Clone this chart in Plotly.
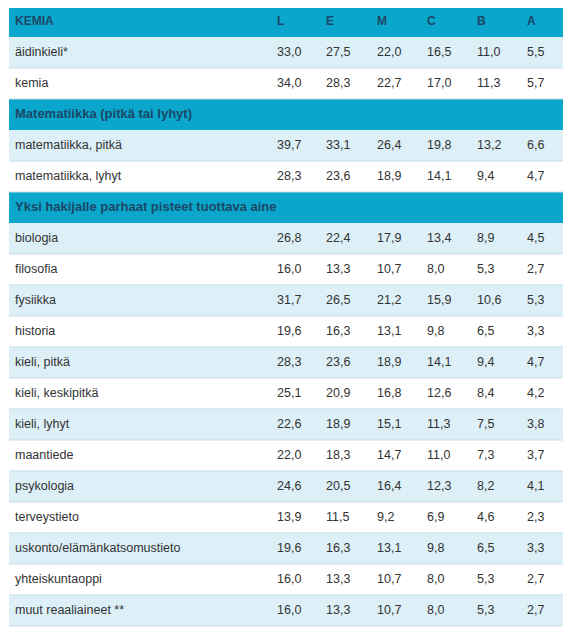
import plotly.graph_objects as go

# ---- data ----
title = "KEMIA"
grade_labels = ["L", "E", "M", "C", "B", "A"]
row_labels = [
    "äidinkieli*", "kemia", "Matematiikka (pitkä tai lyhyt)",
    "matematiikka, pitkä", "matematiikka, lyhyt",
    "Yksi hakijalle parhaat pisteet tuottava aine",
    "biologia", "filosofia", "fysiikka", "historia", "kieli, pitkä",
    "kieli, keskipitkä", "kieli, lyhyt", "maantiede", "psykologia",
    "terveystieto", "uskonto/elämänkatsomustieto", "yhteiskuntaoppi",
    "muut reaaliaineet **",
]
is_section = [False, False, True, False, False, True] + [False] * 13
L = [33.0, 34.0, None, 39.7, 28.3, None, 26.8, 16.0, 31.7, 19.6, 28.3, 25.1, 22.6, 22.0, 24.6, 13.9, 19.6, 16.0, 16.0]
E = [27.5, 28.3, None, 33.1, 23.6, None, 22.4, 13.3, 26.5, 16.3, 23.6, 20.9, 18.9, 18.3, 20.5, 11.5, 16.3, 13.3, 13.3]
M = [22.0, 22.7, None, 26.4, 18.9, None, 17.9, 10.7, 21.2, 13.1, 18.9, 16.8, 15.1, 14.7, 16.4, 9.2, 13.1, 10.7, 10.7]
C = [16.5, 17.0, None, 19.8, 14.1, None, 13.4, 8.0, 15.9, 9.8, 14.1, 12.6, 11.3, 11.0, 12.3, 6.9, 9.8, 8.0, 8.0]
B = [11.0, 11.3, None, 13.2, 9.4, None, 8.9, 5.3, 10.6, 6.5, 9.4, 8.4, 7.5, 7.3, 8.2, 4.6, 6.5, 5.3, 5.3]
A = [5.5, 5.7, None, 6.6, 4.7, None, 4.5, 2.7, 5.3, 3.3, 4.7, 4.2, 3.8, 3.7, 4.1, 2.3, 3.3, 2.7, 2.7]
columns = [L, E, M, C, B, A]

# ---- style ----
W, H = 574, 644
PAGE_OFF = 8          # default body margin of the html page
TOP, ROWH = 6, 31     # page pixel of table top, row height
X0, X1 = 9, 563       # page pixels of table left/right
LABEL_X = 15
COL_X = [277, 326, 377, 427, 477, 527]
CYAN = "#0AA6CB"
LIGHT = "#DDEFF7"
WHITE = "#FFFFFF"
SEP = "#C6DEE9"
HEAD_TXT = "#1C4767"
BODY_TXT = "#333333"
FONT = "Liberation Sans, Arial, sans-serif"

n_rows = len(row_labels) + 1  # including header
rows_y = list(range(n_rows))

# row backgrounds
bg = [CYAN]
stripe = 0
for sec in is_section:
    if sec:
        bg.append(CYAN)
        stripe = 0
    else:
        bg.append(LIGHT if stripe % 2 == 0 else WHITE)
        stripe += 1

fig = go.Figure()
fig.add_trace(go.Bar(
    y=rows_y, x=[X1 - X0] * n_rows, base=[X0] * n_rows, orientation="h",
    width=1, marker=dict(color=bg, line=dict(width=0)),
    hoverinfo="skip", showlegend=False,
))

# label column: header, section rows, body rows
all_labels = [title] + row_labels
kinds = ["head"] + ["sec" if s else "body" for s in is_section]
for kind, size, color in [("head", 12, HEAD_TXT), ("sec", 13, HEAD_TXT), ("body", 12.5, BODY_TXT)]:
    ys = [i for i, k in enumerate(kinds) if k == kind]
    txt = [all_labels[i] for i in ys]
    if kind != "body":
        txt = [f"<b>{t}</b>" for t in txt]
    fig.add_trace(go.Scatter(
        x=[LABEL_X] * len(ys), y=ys, mode="text", text=txt,
        textposition="middle right",
        textfont=dict(family=FONT, size=size, color=color),
        hoverinfo="skip", showlegend=False,
    ))

# grade columns
for gx, g, vals in zip(COL_X, grade_labels, columns):
    fig.add_trace(go.Scatter(
        x=[gx], y=[0], mode="text", text=[f"<b>{g}</b>"],
        textposition="middle right",
        textfont=dict(family=FONT, size=12, color=HEAD_TXT),
        hoverinfo="skip", showlegend=False,
    ))
    ys = [i + 1 for i, v in enumerate(vals) if v is not None]
    txt = [f"{v:.1f}".replace(".", ",") for v in vals if v is not None]
    fig.add_trace(go.Scatter(
        x=[gx] * len(ys), y=ys, mode="text", text=txt,
        textposition="middle right",
        textfont=dict(family=FONT, size=12.5, color=BODY_TXT),
        hoverinfo="skip", showlegend=False,
    ))

# separators under body rows
shapes = []
for i, sec in enumerate(is_section):
    r = i + 1
    if not sec:
        shapes.append(dict(type="line", xref="x", yref="y", x0=X0, x1=X1,
                           y0=r + 0.5, y1=r + 0.5, line=dict(color=SEP, width=1)))

# axis ranges expressed in page pixels (x) and row units (y)
y_top = -0.5 - (TOP - PAGE_OFF) / ROWH
y_bot = y_top + H / ROWH
fig.update_layout(
    width=W, height=H, margin=dict(l=0, r=0, t=0, b=0),
    paper_bgcolor="white", plot_bgcolor="white",
    xaxis=dict(range=[PAGE_OFF, PAGE_OFF + W], visible=False, fixedrange=True),
    yaxis=dict(range=[y_bot, y_top], visible=False, fixedrange=True),
    bargap=0, shapes=shapes,
)
fig.write_html("out.html")
